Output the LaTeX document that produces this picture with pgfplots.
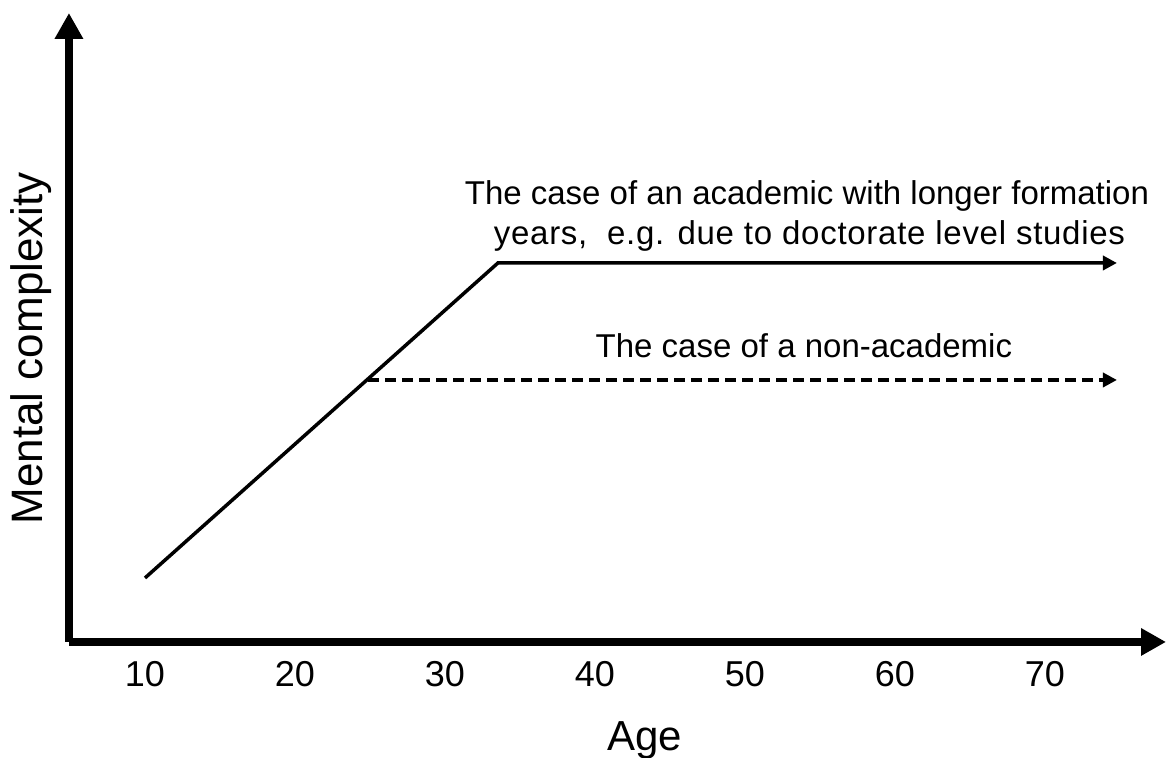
\documentclass[border=0pt]{standalone}
\usepackage{fontspec}
\setmainfont{Liberation Sans}
\usepackage{pgfplots}
\pgfplotsset{compat=1.18}
\usetikzlibrary{arrows.meta}
\begin{document}
\begin{tikzpicture}
\begin{axis}[
 x=7.5pt, y=0.5pt,
 xmin=4.93, xmax=78.07, ymin=0, ymax=629,
 axis lines=left,
 axis line style={line width=4.25pt},
 x axis line style={-{Triangle[length=12.5pt,width=13pt]}},
 y axis line style={-{Triangle[length=13pt,width=13.5pt]}},
 xtick={10,20,30,40,50,60,70},
 ytick=\empty,
 major tick length=0pt,
 /pgf/number format/assume math mode=true,
 tick label style={font=\fontsize{18}{21}\selectfont},
 xticklabel style={yshift=-6pt},
 xlabel={Age},
 ylabel={Mental complexity},
 label style={font=\fontsize{21}{25}\selectfont},
 xlabel style={at={([yshift=-54.5pt]axis description cs:0.525,0)}, anchor=base, inner sep=0pt},
 ylabel style={at={([xshift=-13pt]axis description cs:0,0.467)}, anchor=base, inner sep=0pt, font=\fontsize{22}{26}\selectfont},
 clip=false,
]
\addplot[line width=1.75pt, -{Triangle[length=7pt,width=7pt]}] coordinates {(10,64) (33.53,379) (74.8,379)};
\addplot[line width=2pt, dash pattern=on 5.5pt off 3pt, -{Triangle[length=7pt,width=7pt]}] coordinates {(24.87,262) (74.8,262)};
\node[anchor=base, font=\fontsize{16.5}{20}\selectfont] at (axis cs:54.13,437) {The case of an academic with longer formation};
\node[anchor=base, font=\fontsize{16.5}{20}\selectfont\addfontfeature{LetterSpace=2.2}] at (axis cs:54.3,397) {years,\ \ e.g. due to doctorate level studies};
\node[anchor=base, font=\fontsize{16.5}{20}\selectfont] at (axis cs:53.93,284) {The case of a non-academic};
\coordinate (bbl) at (axis cs:0.333,-116);
\coordinate (btr) at (axis cs:78.07,642);
\end{axis}
\pgfresetboundingbox
\path[use as bounding box] (bbl) rectangle (btr);
\end{tikzpicture}
\end{document}
